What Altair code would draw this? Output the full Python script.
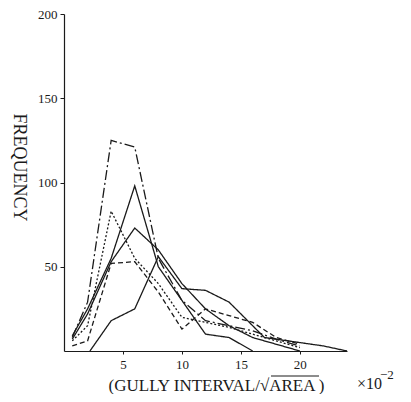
import altair as alt
import pandas as pd

# x positions (×10^-2) and frequencies for each curve
x_a = [0.7, 2, 4, 6, 8, 10, 12, 14, 16, 18, 20]
y_a = [8, 29, 125, 121, 55, 30, 18, 15, 12, 7, 3]

x_b = [0.7, 2, 4, 6, 8, 10, 12, 14, 16]
y_b = [9, 25, 55, 98, 50, 30, 10, 8, 0]

x_c = [0.7, 2, 4, 6, 8, 10, 12, 14, 16, 18, 20]
y_c = [7, 22, 53, 73, 60, 40, 25, 15, 8, 4, 0]

x_d = [2.2, 4, 6, 8, 10, 12, 14, 17, 22, 24]
y_d = [0, 18, 25, 56, 37, 36, 29, 8, 3, 0]

x_e = [0.7, 2, 4, 6, 8, 10, 12, 14, 16, 18, 20]
y_e = [6, 15, 83, 55, 40, 20, 17, 14, 10, 6, 2]

x_f = [0.7, 2, 4, 6, 8, 10, 12, 14, 16, 18, 20]
y_f = [3, 6, 52, 53, 35, 13, 25, 21, 17, 8, 4]

series = ["A", "B", "C", "D", "E", "F"]
dashes = [[10, 3, 2, 3], [1, 0], [1, 0], [1, 0], [2, 2], [5, 3]]

rows = []
for name, xs, ys in zip(series, [x_a, x_b, x_c, x_d, x_e, x_f],
                        [y_a, y_b, y_c, y_d, y_e, y_f]):
    for xv, yv in zip(xs, ys):
        rows.append({"s": name, "x": xv, "y": yv})
df = pd.DataFrame(rows)

FONT = "Liberation Serif"
INK = "#1a1a1a"

lines = alt.Chart(df).mark_line(color=INK, strokeWidth=1.3).encode(
    x=alt.X("x:Q", scale=alt.Scale(domain=[0, 24], nice=False),
            axis=alt.Axis(values=[5, 10, 15, 20], title="(GULLY INTERVAL/√AREA )",
                          titleFont=FONT, titleFontSize=17, titleFontWeight="normal",
                          titleX=152, titleY=34, titleBaseline="middle",
                          tickSize=3, labelPadding=4)),
    y=alt.Y("y:Q", scale=alt.Scale(domain=[0, 200], nice=False),
            axis=alt.Axis(values=[50, 100, 150, 200], title="FREQUENCY",
                          titleFont=FONT, titleFontSize=18, titleFontWeight="normal",
                          titleAngle=90, titleX=-46, titleY=153,
                          titleBaseline="middle", titleAlign="center",
                          tickSize=4, labelPadding=3)),
    strokeDash=alt.StrokeDash("s:N", scale=alt.Scale(domain=series, range=dashes),
                              legend=None),
    detail="s:N",
)

# overline of the square-root sign over "AREA"
overline = alt.Chart(pd.DataFrame({"k": [0]})).mark_rule(color=INK, strokeWidth=1).encode(
    x=alt.value(207), x2=alt.value(255), y=alt.value(362)
)

t1 = alt.Chart(pd.DataFrame({"t": ["×10"]})).mark_text(
    font=FONT, fontSize=16, align="left", baseline="middle", color=INK
).encode(text="t:N", x=alt.value(293), y=alt.value(370))

t2 = alt.Chart(pd.DataFrame({"t": ["−2"]})).mark_text(
    font=FONT, fontSize=13, align="left", baseline="middle", color=INK
).encode(text="t:N", x=alt.value(316), y=alt.value(361))

chart = alt.layer(lines, overline, t1, t2).properties(
    width=283, height=337,
    padding={"left": 56, "top": 6, "right": 56, "bottom": 43},
    autosize=alt.AutoSizeParams(type="none"),
).configure_view(stroke=None).configure_axis(
    grid=False, domainColor=INK, tickColor=INK,
    labelFont=FONT, labelFontSize=13, labelColor=INK,
    titleColor=INK, domainWidth=1.2,
)

chart.save("out.html", embed_options={"renderer": "svg", "actions": False})
